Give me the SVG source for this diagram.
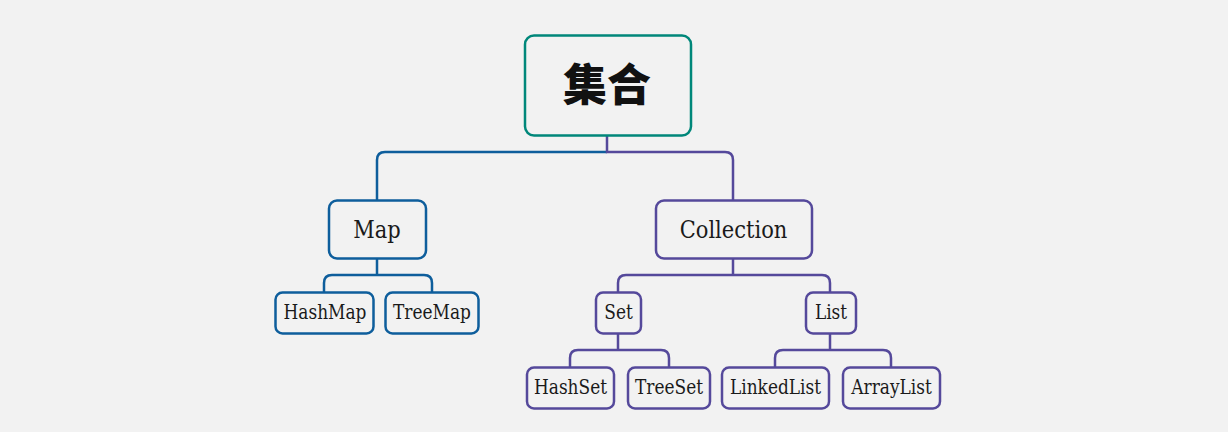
<svg xmlns="http://www.w3.org/2000/svg" width="1228" height="432" viewBox="0 0 1228 432">
<style>
.bg{fill:#f2f2f2}
.box{fill:#f2f2f2;stroke-width:2.5}
.teal{stroke:#00877a}
.blue{stroke:#0e5e9c}
.purple{stroke:#55499b}
.con{fill:none;stroke-width:2.5}
.t{font-family:"DejaVu Serif","Liberation Serif",serif;fill:#1a1a1a;text-anchor:middle}
.l1{font-size:21px}
.l2{font-size:17px}
.root{font-family:"Noto Sans CJK SC","Noto Sans",sans-serif;font-weight:900;font-size:44px;fill:#111;text-anchor:middle}
</style>
<rect class="bg" x="0" y="0" width="1228" height="432"/>
<g id="connectors">
<path class="con blue" d="M607,152 H385 Q377,152 377,160 V200"/>
<path class="con purple" d="M607,136 V152 H725 Q733,152 733,160 V200"/>
<path class="con blue" d="M377,259 V275 H332 Q324,275 324,283 V292 M377,275 H424 Q432,275 432,283 V292"/>
<path class="con purple" d="M733,259 V275 H626 Q618,275 618,283 V292 M733,275 H822 Q830,275 830,283 V292"/>
<path class="con purple" d="M618,334 V350 H578 Q570,350 570,358 V367 M618,350 H661 Q669,350 669,358 V367"/>
<path class="con purple" d="M830,334 V350 H783 Q775,350 775,358 V367 M830,350 H883 Q891,350 891,358 V367"/>
</g>
<g id="node-root">
<rect class="box teal" x="525" y="35.5" width="166" height="100" rx="9"/>
<text class="root" x="607" y="101">集合</text>
</g>
<g id="node-map">
<rect class="box blue" x="329" y="200.5" width="97" height="58" rx="8"/>
<text class="t l1" transform="translate(377,237.5) scale(1,1.16)">Map</text>
</g>
<g id="node-collection">
<rect class="box purple" x="656" y="200.5" width="156" height="58" rx="8"/>
<text class="t l1" transform="translate(733.5,237.5) scale(1,1.16)">Collection</text>
</g>
<g id="node-hashmap">
<rect class="box blue" x="275.5" y="292.5" width="98" height="41" rx="7"/>
<text class="t l2" transform="translate(325,319.3) scale(1,1.15)">HashMap</text>
</g>
<g id="node-treemap">
<rect class="box blue" x="385.5" y="292.5" width="93" height="41" rx="7"/>
<text class="t l2" transform="translate(432,319.3) scale(1,1.15)">TreeMap</text>
</g>
<g id="node-set">
<rect class="box purple" x="596" y="292.5" width="45" height="41" rx="7"/>
<text class="t l2" transform="translate(618.5,319.3) scale(1,1.15)">Set</text>
</g>
<g id="node-list">
<rect class="box purple" x="806" y="292.5" width="50" height="41" rx="7"/>
<text class="t l2" transform="translate(831,319.3) scale(1,1.15)">List</text>
</g>
<g id="node-hashset">
<rect class="box purple" x="527" y="367.5" width="87" height="41" rx="7"/>
<text class="t l2" transform="translate(570.5,394.3) scale(1,1.15)">HashSet</text>
</g>
<g id="node-treeset">
<rect class="box purple" x="628" y="367.5" width="82" height="41" rx="7"/>
<text class="t l2" transform="translate(669,394.3) scale(1,1.15)">TreeSet</text>
</g>
<g id="node-linkedlist">
<rect class="box purple" x="722" y="367.5" width="107" height="41" rx="7"/>
<text class="t l2" transform="translate(775.5,394.3) scale(1,1.15)">LinkedList</text>
</g>
<g id="node-arraylist">
<rect class="box purple" x="843" y="367.5" width="97" height="41" rx="7"/>
<text class="t l2" transform="translate(891.5,394.3) scale(1,1.15)">ArrayList</text>
</g>
</svg>
